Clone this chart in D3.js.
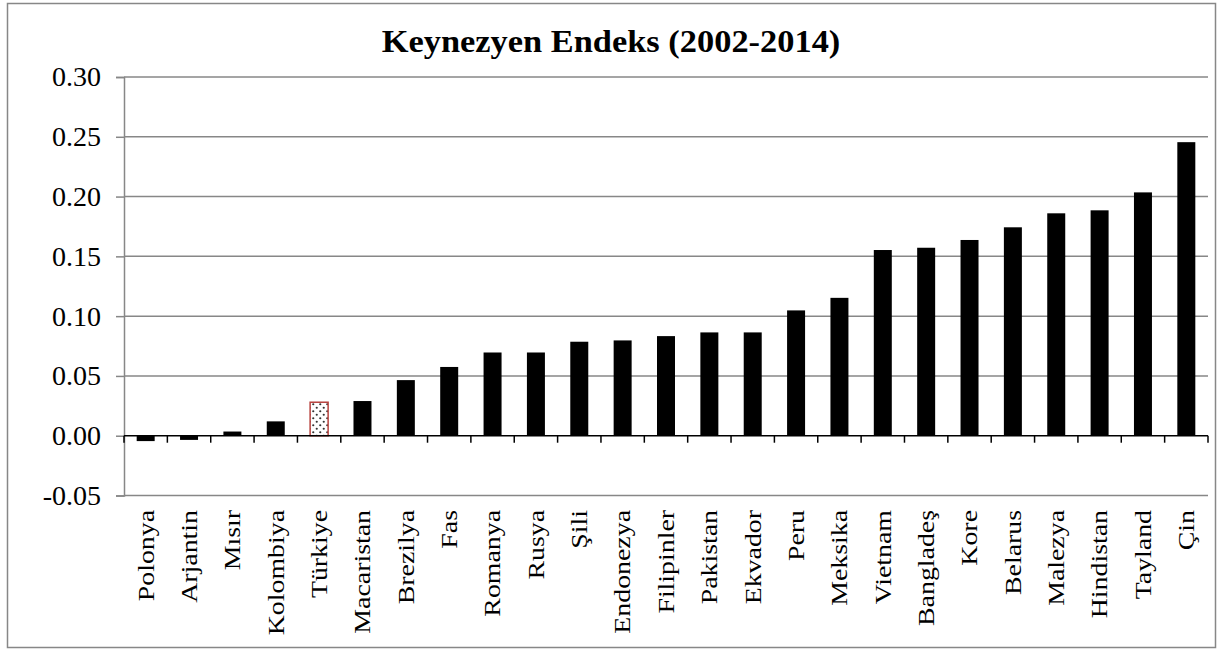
<!DOCTYPE html>
<html>
  <head>
    <title>Keynezyen Endeks</title>
    <style>
      body {
        margin: 0;
        background: #fff;
      }
      svg {
        display: block;
        font-family: "Liberation Serif", "Times New Roman", serif;
      }
    </style>
  </head>
  <body>
    <svg id="canvas" width="1217" height="650"></svg>
    <script src="https://d3js.org/d3.v7.min.js"></script>
    <script>
      // Data
      const countries = ["Polonya", "Arjantin", "Mısır", "Kolombiya", "Türkiye", "Macaristan", "Brezilya", "Fas", "Romanya", "Rusya", "Şili", "Endonezya", "Filipinler", "Pakistan", "Ekvador", "Peru", "Meksika", "Vietnam", "Bangladeş", "Kore", "Belarus", "Malezya", "Hindistan", "Tayland", "Çin"];
      const indexValues = [-0.0045, -0.0035, 0.0035, 0.012, 0.028, 0.029, 0.0465, 0.0575, 0.0696, 0.0696, 0.0786, 0.0797, 0.0833, 0.0864, 0.0864, 0.1048, 0.1153, 0.1553, 0.1572, 0.1637, 0.1743, 0.186, 0.1885, 0.2035, 0.2455];
      const yTicks = [-0.05, 0, 0.05, 0.1, 0.15, 0.2, 0.25, 0.3];
      const highlighted = "Türkiye";
      const title = "Keynezyen Endeks (2002-2014)";

      const svg = d3.select("#canvas");
      const plot = { left: 124, right: 1208, top: 77, bottom: 495.5 };
      const gridColor = "#878787";

      // outer frame
      svg.append("rect")
        .attr("x", 7.5).attr("y", 3.5)
        .attr("width", 1208).attr("height", 644)
        .attr("fill", "#fff")
        .attr("stroke", gridColor)
        .attr("stroke-width", 1.5);

      // dotted pattern for the highlighted bar
      const pat = svg.append("defs").append("pattern")
        .attr("id", "dots")
        .attr("patternUnits", "userSpaceOnUse")
        .attr("width", 7).attr("height", 7);
      pat.append("rect").attr("width", 7).attr("height", 7).attr("fill", "#fff");
      pat.append("circle").attr("cx", 1.75).attr("cy", 1.75).attr("r", 1.1).attr("fill", "#333");
      pat.append("circle").attr("cx", 5.25).attr("cy", 5.25).attr("r", 1.1).attr("fill", "#333");

      const x = d3.scaleBand()
        .domain(countries)
        .range([plot.left, plot.right])
        .paddingInner(0.585)
        .paddingOuter(0.2925);

      const y = d3.scaleLinear()
        .domain([-0.05, 0.3])
        .range([plot.bottom, plot.top]);

      // y axis with gridlines
      const yAxis = svg.append("g")
        .attr("transform", "translate(" + plot.left + ",0)")
        .call(d3.axisLeft(y)
          .tickValues(yTicks)
          .tickSize(8)
          .tickPadding(15)
          .tickFormat(d => d.toFixed(2)));
      yAxis.select(".domain").attr("stroke", gridColor).attr("stroke-width", 1.5);
      yAxis.selectAll(".tick line").attr("stroke", gridColor).attr("stroke-width", 1.5);
      yAxis.selectAll(".tick text")
        .attr("font-family", "Liberation Serif")
        .attr("font-size", 28)
        .attr("fill", "#000");

      svg.append("g")
        .selectAll("line")
        .data(yTicks.filter(d => d !== 0))
        .join("line")
        .attr("x1", plot.left).attr("x2", plot.right)
        .attr("y1", d => y(d)).attr("y2", d => y(d))
        .attr("stroke", gridColor)
        .attr("stroke-width", 1.5);

      // bars
      svg.append("g")
        .selectAll("rect")
        .data(countries)
        .join("rect")
        .attr("x", (d, i) => x(d))
        .attr("width", x.bandwidth())
        .attr("y", (d, i) => y(Math.max(0, indexValues[i])))
        .attr("height", (d, i) => Math.abs(y(indexValues[i]) - y(0)))
        .attr("fill", d => d === highlighted ? "url(#dots)" : "#000")
        .attr("stroke", d => d === highlighted ? "#b8433f" : "none")
        .attr("stroke-width", 1.5);

      // zero line and category ticks
      svg.append("line")
        .attr("x1", plot.left).attr("x2", plot.right)
        .attr("y1", y(0)).attr("y2", y(0))
        .attr("stroke", "#000")
        .attr("stroke-width", 1.5);

      svg.append("g")
        .selectAll("line")
        .data(d3.range(countries.length + 1))
        .join("line")
        .attr("x1", i => plot.left + i * x.step())
        .attr("x2", i => plot.left + i * x.step())
        .attr("y1", y(0))
        .attr("y2", y(0) + 7)
        .attr("stroke", "#000")
        .attr("stroke-width", 1.5);

      // category labels, rotated (slightly stretched along the text like the original)
      svg.append("g")
        .selectAll("text")
        .data(countries)
        .join("text")
        .attr("transform", d => "translate(" + (x(d) + x.bandwidth() / 2) + ",510) rotate(-90) scale(1.16,1)")
        .attr("text-anchor", "end")
        .attr("dominant-baseline", "central")
        .attr("font-size", 24)
        .attr("fill", "#000")
        .text(d => d);

      // title
      svg.append("text")
        .attr("transform", "translate(611,52) scale(1.11,1)")
        .attr("text-anchor", "middle")
        .attr("font-size", 31)
        .attr("font-weight", "bold")
        .attr("fill", "#000")
        .text(title);
    </script>
  </body>
</html>
